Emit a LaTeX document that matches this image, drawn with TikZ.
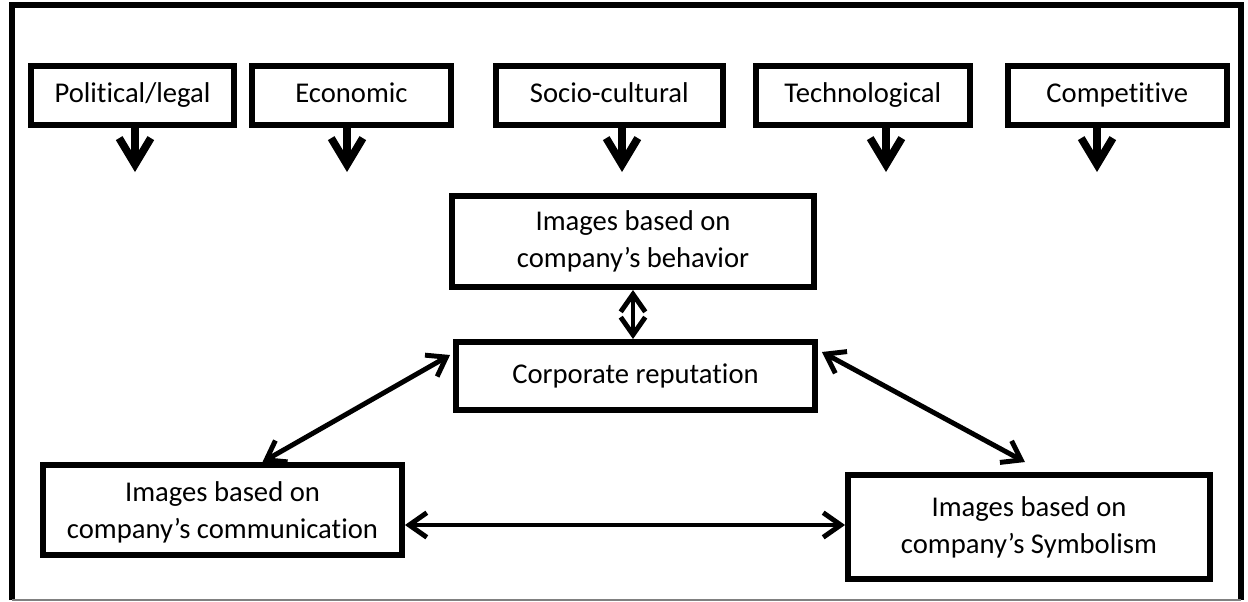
\documentclass[tikz,border=0pt]{standalone}
\usepackage{fontspec}
\setmainfont[Ligatures=NoCommon]{Carlito}
\usetikzlibrary{arrows.meta,positioning,calc}

\begin{document}
\begin{tikzpicture}[>={Straight Barb[length=10pt,width=14pt]},x=0.02cm,y=-0.02cm,
  font=\fontsize{16.3}{21}\selectfont,
  factor/.style={draw,line width=3.4pt,minimum width=#1,minimum height=1.18cm,inner sep=0pt,
    text height=12pt,text depth=4pt},
  imgbox/.style={draw,line width=3.4pt,align=center,inner sep=0pt},
  link/.style={<->,line width=2.8pt},
  push/.style={-{Straight Barb[length=15pt,width=18pt]},line width=4.4pt}]
  \useasboundingbox (0,0) rectangle (1248,602);
  \draw[line width=3.4pt] (12,600) -- (12,5) -- (1241,5) -- (1241,600);
  \draw[gray,line width=0.6pt] (12,600) -- (1241,600);

  \node[factor=4.06cm] (pol) at (132.5,95.5) {Political/legal};
  \node[factor=3.98cm,right=0.24cm of pol] (eco) {Economic};
  \node[factor=4.54cm,right=0.78cm of eco] (soc) {Socio-cultural};
  \node[factor=4.28cm,right=0.54cm of soc] (tec) {Technological};
  \node[factor=4.38cm,right=0.64cm of tec] (cmp) {Competitive};

  \foreach \n/\x in {pol/135,eco/347,soc/622,tec/886,cmp/1097} {
    \coordinate (\n tip) at (\x,172);
    \draw[push] (\n tip |- \n.south) -- (\n tip);
  }

  \node[imgbox,minimum width=7.24cm,minimum height=1.82cm] (beh) at (633,241.5) {Images based on\\company’s behavior};
  \node[imgbox,minimum width=7.18cm,minimum height=1.36cm] (rep) at (635.5,376) {Corporate reputation};
  \node[imgbox,minimum width=7.18cm,minimum height=1.8cm,text depth=0pt] (com) at (222.5,510) {Images based on\\company’s communication};
  \node[imgbox,minimum width=7.24cm,minimum height=2.08cm] (sym) at (1029,527) {Images based on\\company’s Symbolism};

  \draw[link] (beh.south) -- (beh.south |- rep.north);
  \draw[link] ($(rep.west)+(-3,-21)$) -- ($(com.north)+(40,0)$);
  \draw[link] ($(rep.east)+(4,-24)$) -- ($(sym.north)+(-4,-10)$);
  \draw[link] ($(com.east)+(0,15)$) coordinate (h) -- (h -| sym.west);
\end{tikzpicture}
\end{document}
